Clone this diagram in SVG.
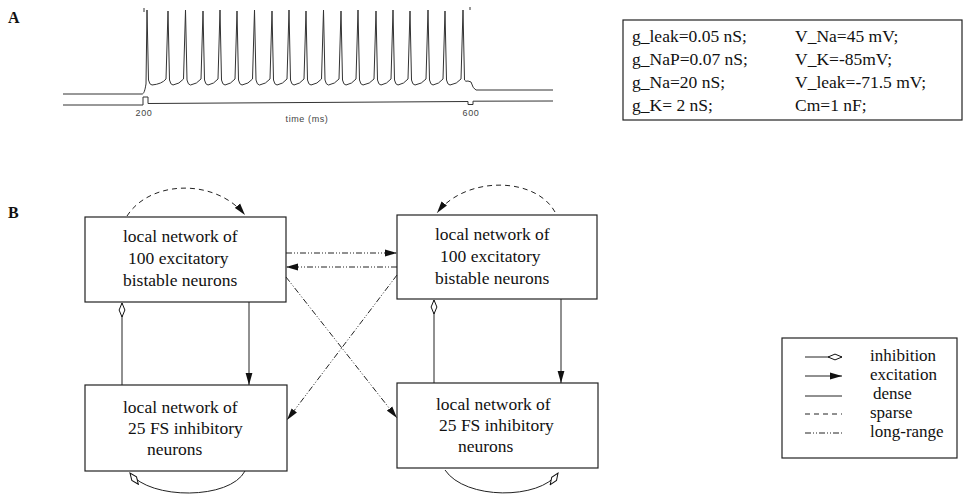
<svg xmlns="http://www.w3.org/2000/svg" width="965" height="497" viewBox="0 0 965 497">
<style>
text{font-family:"Liberation Serif","Times New Roman",serif;fill:#111}
.lbl{font-weight:bold;font-size:16px}
.t{font-size:17.5px}
.p{font-size:17.5px}
.lg{font-size:17px}
.ax{font-family:"Liberation Sans",Arial,sans-serif;font-size:9px;fill:#444;letter-spacing:0.6px}
.box{fill:#fff;stroke:#222;stroke-width:1.2}
.tr{fill:none;stroke:#333;stroke-width:1}
.c{fill:none;stroke:#222;stroke-width:1}
.sp{stroke-dasharray:5 4}
.lr{stroke-dasharray:6 2 1 2 1 2}
</style>
<defs>
<marker id="exc" viewBox="0 0 12 8" refX="12" refY="4" markerWidth="12" markerHeight="8" markerUnits="userSpaceOnUse" orient="auto"><path d="M0,0.6 L12,4 L0,7.4 Z" fill="#111"/></marker>
<marker id="inh" viewBox="-1 -1 16 9" refX="14" refY="3.5" markerWidth="16" markerHeight="9" markerUnits="userSpaceOnUse" orient="auto"><path d="M0,3.5 L7,0.6 L14,3.5 L7,6.4 Z" fill="#fff" stroke="#111" stroke-width="1"/></marker>
</defs>
<rect width="965" height="497" fill="#fff"/>

<g id="panelA">
<text class="lbl" x="8" y="23">A</text>
<path class="tr" d="M63,94 H142 C144,94 145,90 146,84 L147,10 L148.5,80 Q149.5,85 152,85 Q162,84 166,79 L168,11 L169.5,80 Q170.5,85 173,85 Q179.5,84 183.5,79 L185.5,10 L187,80 Q188,85 190.5,85 Q197,84 201,79 L203,11 L204.5,80 Q205.5,85 208,85 Q214,84 218,79 L220,10 L221.5,80 Q222.5,85 225,85 Q231,84 235,79 L237,11 L238.5,80 Q239.5,85 242,85 Q248.5,84 252.5,79 L254.5,10 L256,80 Q257,85 259.5,85 Q266,84 270,79 L272,11 L273.5,80 Q274.5,85 277,85 Q283,84 287,79 L289,10 L290.5,80 Q291.5,85 294,85 Q300,84 304,79 L306,11 L307.5,80 Q308.5,85 311,85 Q317.5,84 321.5,79 L323.5,10 L325,80 Q326,85 328.5,85 Q335,84 339,79 L341,11 L342.5,80 Q343.5,85 346,85 Q352,84 356,79 L358,10 L359.5,80 Q360.5,85 363,85 Q370,84 374,79 L376,11 L377.5,80 Q378.5,85 381,85 Q387,84 391,79 L393,10 L394.5,80 Q395.5,85 398,85 Q404,84 408,79 L410,11 L411.5,80 Q412.5,85 415,85 Q422,84 426,79 L428,10 L429.5,80 Q430.5,85 433,85 Q439,84 443,79 L445,11 L446.5,80 Q447.5,85 450,85 Q457,84 461,79 L463,10 L464.5,80 Q465.5,82 468,81 L471,82 Q473,89 476,90 H553"/>
<path class="tr" d="M63,105 H143 V97 H148 V103.5 L468,101.5 V104.5 H473 V101.2 L553,101"/>
<path class="tr" d="M144,8 V12 M470,7 V10"/>
<text class="ax" x="144" y="116" text-anchor="middle">200</text>
<text class="ax" x="471" y="116" text-anchor="middle">600</text>
<text class="ax" x="307" y="122" text-anchor="middle">time (ms)</text>
</g>

<g id="params">
<rect class="box" x="623" y="20" width="339" height="100"/>
<text class="p" x="632" y="42">g_leak=0.05 nS;</text>
<text class="p" x="632" y="65">g_NaP=0.07 nS;</text>
<text class="p" x="632" y="88">g_Na=20 nS;</text>
<text class="p" x="632" y="111">g_K= 2 nS;</text>
<text class="p" x="795" y="42">V_Na=45 mV;</text>
<text class="p" x="795" y="65">V_K=-85mV;</text>
<text class="p" x="795" y="88">V_leak=-71.5 mV;</text>
<text class="p" x="795" y="111">Cm=1 nF;</text>
</g>

<text class="lbl" x="8" y="218">B</text>

<g id="exc1">
<rect class="box" x="85" y="217" width="201" height="85"/>
<text class="t" x="123" y="242">local network of</text>
<text class="t" x="128" y="264">100 excitatory</text>
<text class="t" x="123" y="286">bistable neurons</text>
</g>
<g id="exc2">
<rect class="box" x="397" y="215" width="200" height="84"/>
<text class="t" x="435" y="240">local network of</text>
<text class="t" x="440" y="262">100 excitatory</text>
<text class="t" x="435" y="284">bistable neurons</text>
</g>
<g id="inh1">
<rect class="box" x="85" y="385" width="202" height="86"/>
<text class="t" x="123" y="413">local network of</text>
<text class="t" x="128" y="434">25 FS inhibitory</text>
<text class="t" x="147" y="455">neurons</text>
</g>
<g id="inh2">
<rect class="box" x="397" y="383" width="201" height="85"/>
<text class="t" x="436" y="410">local network of</text>
<text class="t" x="439" y="431">25 FS inhibitory</text>
<text class="t" x="458" y="452">neurons</text>
</g>

<g id="connectors">
<path class="c sp" d="M127,216 C150,180 215,178 245,215" marker-end="url(#exc)"/>
<path class="c sp" d="M555,212 C535,176 465,176 437,213" marker-end="url(#exc)"/>
<path class="c lr" d="M286,253 H397" marker-end="url(#exc)"/>
<path class="c lr" d="M397,267 H286" marker-end="url(#exc)"/>
<path class="c lr" d="M286,277 L397,418" marker-end="url(#exc)"/>
<path class="c lr" d="M397,275 L287,420" marker-end="url(#exc)"/>
<path class="c" d="M249,302 V385" marker-end="url(#exc)"/>
<path class="c" d="M122,385 V303" marker-end="url(#inh)"/>
<path class="c" d="M561,299 V383" marker-end="url(#exc)"/>
<path class="c" d="M434,383 V300" marker-end="url(#inh)"/>
<path class="c" d="M245,471 C230,500 150,500 130,473" marker-end="url(#inh)"/>
<path class="c" d="M445,470 C465,500 540,500 558,473" marker-end="url(#inh)"/>
</g>

<g id="legend">
<rect class="box" x="782" y="338" width="175" height="120"/>
<path class="c" d="M805,357 H842" marker-end="url(#inh)"/>
<path class="c" d="M805,376 H842" marker-end="url(#exc)"/>
<path class="c" d="M805,396 H842"/>
<path class="c sp" d="M805,414 H842"/>
<path class="c lr" d="M805,433 H842"/>
<text class="lg" x="870" y="361">inhibition</text>
<text class="lg" x="870" y="380">excitation</text>
<text class="lg" x="873" y="399">dense</text>
<text class="lg" x="870" y="418">sparse</text>
<text class="lg" x="870" y="437">long-range</text>
</g>
</svg>
